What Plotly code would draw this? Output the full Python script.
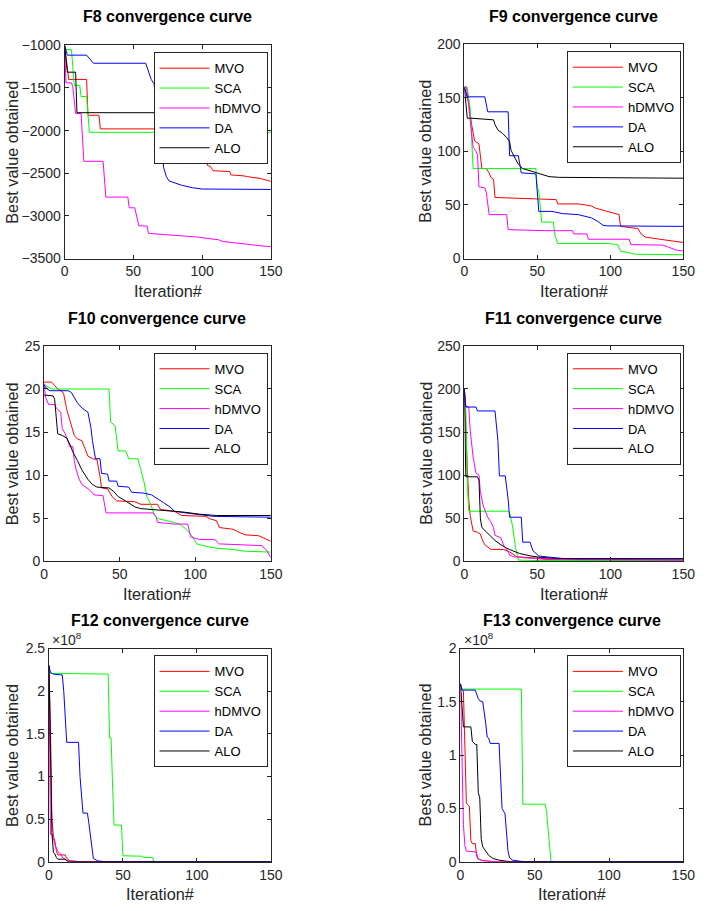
import plotly.graph_objects as go

ITER_TICKS = [0, 50, 100, 150]
SERIES = ["MVO", "SCA", "hDMVO", "DA", "ALO"]
COLORS = {"MVO": "#ff0000", "SCA": "#00ff00", "hDMVO": "#ff00ff", "DA": "#0000ff", "ALO": "#000000"}

# ---- F8 (iteration, best value) ----
F8_MVO = [(0,-1000),(2,-1300),(3,-1400),(16,-1400),(17,-1820),(25,-1820),(26,-1980),(79,-1980),(80,-2290),(103,-2300),(104,-2410),(106,-2420),(108,-2470),(120,-2480),(121,-2520),(130,-2530),(133,-2540),(142,-2560),(146,-2580),(150,-2595)]
F8_SCA = [(0,-1000),(1,-1050),(5,-1050),(7,-1470),(11,-1470),(12,-1600),(16,-1600),(18,-2020),(150,-2020)]
F8_hDMVO = [(0,-1000),(1,-1440),(5,-1440),(6,-1490),(8,-1800),(12,-1800),(14,-2360),(28,-2360),(30,-2780),(46,-2780),(47,-2905),(51,-2905),(54,-3115),(60,-3120),(61,-3205),(79,-3225),(98,-3250),(104,-3265),(112,-3280),(115,-3300),(125,-3320),(135,-3340),(145,-3355),(150,-3360)]
F8_DA = [(0,-1000),(2,-1115),(16,-1115),(21,-1210),(59,-1210),(63,-1400),(65,-1450),(67,-1650),(69,-1950),(71,-2200),(72,-2430),(74,-2540),(76,-2590),(80,-2610),(85,-2640),(93,-2670),(100,-2685),(150,-2690)]
F8_ALO = [(0,-1000),(2,-1315),(8,-1315),(9,-1790),(150,-1790)]
F8_YTICKS = [-3500, -3000, -2500, -2000, -1500, -1000]

# ---- F9 ----
F9_MVO = [(0,160),(1,155),(3,145),(5,125),(7,110),(10,107),(11,95),(12,84),(15,84),(17,80),(18,76),(20,74),(21,57),(42,56),(50,55),(63,55),(64,51),(78,51),(83,50),(87,49),(90,47),(96,45),(100,43),(106,41),(107,30),(116,29),(119,28),(121,23),(124,20),(134,18),(143,16),(150,15)]
F9_SCA = [(0,160),(2,160),(4,140),(6,84),(49,84),(50,66),(51,63),(53,34),(61,34),(62,22),(64,14),(99,14),(105,13),(107,7),(114,5),(117,4),(150,3.5)]
F9_hDMVO = [(0,160),(1,161),(2,155),(4,130),(6,104),(8,100),(9,97),(10,67),(14,66),(15,62),(17,41),(29,41),(30,27),(55,26),(74,26),(75,23),(84,23),(85,18),(113,18),(114,13),(136,12.5),(140,10.5),(145,8),(150,7)]
F9_DA = [(0,160),(2,151),(14,151),(16,137),(30,137),(31,96),(37,96),(39,80),(49,79),(51,44),(60,44),(67,42),(78,41),(87,38),(91,35),(95,31),(98,30.5),(150,30)]
F9_ALO = [(0,160),(2,131),(5,131),(20,129.5),(21,125),(23,120),(26,117),(29,113),(31,109),(32,101),(35,93),(37,88),(40,84),(45,82),(49,80.5),(54,78),(58,76.5),(65,75.8),(100,75.5),(150,75)]
F9_YTICKS = [0, 50, 100, 150, 200]

# ---- F10 ----
F10_MVO = [(0,20.8),(5,20.8),(6,20.6),(9,20.0),(12,19.7),(13,19.4),(15,17.6),(17,16.5),(19,15.2),(20,14.6),(22,14.2),(25,14.0),(27,13.1),(29,12.2),(32,11.9),(35,11.8),(37,9.8),(38,8.5),(42,8.4),(45,7.5),(48,7.0),(60,6.9),(64,6.6),(75,6.6),(77,6.0),(86,5.8),(91,5.3),(107,5.2),(110,4.9),(114,4.7),(116,3.9),(125,3.7),(129,3.35),(133,3.05),(142,2.95),(146,2.6),(150,2.3)]
F10_SCA = [(0,20.6),(2,20.3),(5,20.0),(43,20.0),(44,16.2),(47,15.7),(49,12.8),(54,12.8),(56,11.9),(62,11.9),(64,10.6),(66,9.3),(68,7.5),(71,6.4),(73,5.3),(75,4.95),(81,4.7),(90,4.3),(94,3.7),(98,2.9),(101,2.0),(105,1.8),(114,1.5),(125,1.35),(133,1.15),(150,1.05)]
F10_hDMVO = [(0,20.6),(1,19.0),(3,18.2),(7,18.2),(8,17.8),(11,17.3),(12,15.4),(14,14.8),(17,13.3),(19,13.3),(20,11.7),(21,10.8),(23,9.6),(25,8.9),(30,8.3),(33,7.7),(39,7.6),(41,5.6),(72,5.6),(74,5.2),(75,4.5),(84,4.4),(86,4.3),(95,4.3),(97,2.8),(103,2.5),(113,2.5),(116,2.0),(138,1.9),(144,1.8),(147,1.3),(150,0.4)]
F10_DA = [(0,20.5),(2,20.0),(4,19.8),(16,19.8),(18,19.6),(20,19.0),(22,18.4),(25,17.8),(29,17.3),(31,15.5),(32,14.0),(34,11.9),(37,11.9),(38,10.2),(42,10.1),(43,9.3),(48,9.3),(49,8.7),(56,8.6),(58,8.0),(66,7.9),(71,7.7),(75,7.2),(79,6.8),(84,6.2),(86,5.8),(94,5.6),(107,5.3),(112,5.2),(150,5.1)]
F10_ALO = [(0,19.3),(6,19.2),(7,18.8),(8,17.1),(9,14.8),(12,14.6),(15,14.3),(17,13.6),(19,12.7),(22,11.7),(25,10.6),(29,9.5),(32,8.9),(35,8.6),(43,8.5),(46,8.1),(49,7.5),(52,7.2),(56,6.7),(60,6.3),(64,6.1),(71,6.0),(82,5.9),(92,5.7),(103,5.45),(114,5.3),(150,5.3)]
F10_YTICKS = [0, 5, 10, 15, 20, 25]

# ---- F11 ----
F11_MVO = [(0,200),(1,148),(2,110),(3,72),(4,53),(6,35),(9,33.5),(11,31.5),(12,26),(14,19),(16,16.4),(18,13.7),(27,13.5),(31,10.7),(36,5),(45,3.8),(56,2.3),(67,1.5),(150,1.1)]
F11_SCA = [(0,200),(1,175),(2,90),(3,58),(30,58),(31,56),(33,41),(35,16),(37,1.2),(50,0.7),(150,0.5)]
F11_hDMVO = [(0,200),(1,180),(3,179),(4,152),(6,121),(8,102),(10,100),(11,80),(13,64),(16,51),(18,46),(20,39),(21,30),(25,27),(27,18),(29,14),(31,7),(34,5),(42,3.8),(56,1.9),(150,1.1)]
F11_DA = [(0,200),(1,179),(8,179),(9,174.5),(21,174.5),(23,140),(24,99),(28,99),(30,72),(31,51),(39,51),(40,22),(45,22),(47,12),(49,9),(51,6),(56,5),(67,3),(150,2.8)]
F11_ALO = [(0,200),(1,98),(9,98),(10,94),(11,49),(12,39),(15,34),(18,29),(21,24),(25,19),(29,15),(34,11.4),(38,8.8),(45,6.1),(51,4.6),(60,3.4),(78,2.7),(150,2.6)]
F11_YTICKS = [0, 50, 100, 150, 200, 250]

# ---- F12 (values in units of 1e8) ----
F12_MVO = [(0,2.3),(1,1.6),(2,0.5),(3,0.3),(4,0.24),(5,0.13),(6,0.08),(11,0.08),(12,0.04),(14,0.012),(20,0.002),(150,0.0)]
F12_SCA = [(0,2.21),(40,2.2),(41,1.45),(42,1.45),(43,0.9),(44,0.43),(49,0.43),(50,0.07),(63,0.065),(64,0.05),(70,0.05),(71,0.0),(150,0.0)]
F12_hDMVO = [(0,2.3),(1,0.32),(2,0.32),(3,0.28),(4,0.2),(5,0.15),(6,0.12),(7,0.1),(8,0.09),(9,0.05),(11,0.03),(13,0.01),(18,0.004),(27,0.0),(150,0.0)]
F12_DA = [(0,2.3),(1,2.22),(3,2.2),(9,2.19),(10,2.0),(12,1.4),(20,1.4),(21,1.0),(23,0.57),(26,0.57),(27,0.45),(28,0.3),(29,0.12),(30,0.04),(33,0.01),(38,0.0),(150,0.0)]
F12_ALO = [(0,2.3),(1,1.2),(2,0.34),(3,0.11),(4,0.09),(5,0.05),(6,0.03),(11,0.03),(12,0.01),(14,0.0),(150,0.0)]
F12_YTICKS = [0, 0.5, 1, 1.5, 2, 2.5]

# ---- F13 (values in units of 1e8) ----
F13_MVO = [(0,1.67),(1,1.62),(2,1.6),(3,1.1),(4,0.55),(6,0.52),(7,0.2),(8,0.17),(10,0.17),(11,0.05),(12,0.025),(15,0.01),(22,0.0),(150,0.0)]
F13_SCA = [(0,1.67),(1,1.62),(41,1.62),(42,0.54),(57,0.54),(58,0.47),(59,0.3),(60,0.1),(61,0.0),(150,0.0)]
F13_hDMVO = [(0,1.67),(1,1.0),(2,0.35),(3,0.15),(4,0.1),(10,0.092),(11,0.07),(12,0.025),(15,0.01),(22,0.003),(26,0.0),(150,0.0)]
F13_DA = [(0,1.67),(1,1.61),(10,1.61),(11,1.56),(12,1.53),(13,1.51),(15,1.5),(17,1.3),(18,1.17),(19,1.16),(20,1.11),(26,1.11),(27,0.8),(28,0.5),(30,0.45),(31,0.22),(32,0.1),(33,0.04),(35,0.015),(40,0.005),(44,0.0),(150,0.0)]
F13_ALO = [(0,1.67),(1,1.5),(2,1.265),(7,1.265),(8,1.13),(10,1.1),(11,1.1),(12,0.65),(13,0.6),(14,0.21),(15,0.14),(17,0.1),(19,0.06),(22,0.03),(26,0.015),(31,0.005),(35,0.0),(150,0.0)]
F13_YTICKS = [0, 0.5, 1, 1.5, 2]

W, H = 708, 911
FONT = "Liberation Sans, Arial, Helvetica, sans-serif"
AX = "#262626"

# panel layout (pixels): axes box, legend top-left, title y, exponent label position
PANELS = [
    dict(name="F8", data=[F8_MVO, F8_SCA, F8_hDMVO, F8_DA, F8_ALO], yt=F8_YTICKS, yr=[-3500, -1000],
         l=62, r=273, t=38, b=255, lgx=153, lgy=45, ylab_x=8, ty=9, exp=None),
    dict(name="F9", data=[F9_MVO, F9_SCA, F9_hDMVO, F9_DA, F9_ALO], yt=F9_YTICKS, yr=[0, 200],
         l=471, r=695, t=37, b=255, lgx=576, lgy=44, ylab_x=431, ty=9, exp=None),
    dict(name="F10", data=[F10_MVO, F10_SCA, F10_hDMVO, F10_DA, F10_ALO], yt=F10_YTICKS, yr=[0, 25],
         l=41, r=273, t=344, b=563, lgx=153, lgy=351, ylab_x=8, ty=316, exp=None),
    dict(name="F11", data=[F11_MVO, F11_SCA, F11_hDMVO, F11_DA, F11_ALO], yt=F11_YTICKS, yr=[0, 250],
         l=471, r=695, t=344, b=563, lgx=576, lgy=351, ylab_x=431, ty=316, exp=None),
    dict(name="F12", data=[F12_MVO, F12_SCA, F12_hDMVO, F12_DA, F12_ALO], yt=F12_YTICKS, yr=[0, 2.5],
         l=46, r=273, t=652, b=869, lgx=153, lgy=659, ylab_x=8, ty=623, exp=(47, 642)),
    dict(name="F13", data=[F13_MVO, F13_SCA, F13_hDMVO, F13_DA, F13_ALO], yt=F13_YTICKS, yr=[0, 2],
         l=467, r=695, t=652, b=869, lgx=576, lgy=659, ylab_x=431, ty=623, exp=(469, 642)),
]

def fx(p):
    return p / W

def fy(p):
    return 1 - p / H

fig = go.Figure()
annotations = []
layout = {}

for i, P in enumerate(PANELS):
    k = "" if i == 0 else str(i + 1)
    lg = "legend" + k
    for sname, pts in zip(SERIES, P["data"]):
        xs = [p[0] for p in pts]
        ys = [p[1] for p in pts]
        fig.add_trace(go.Scatter(x=xs, y=ys, mode="lines", name=sname,
                                 line=dict(color=COLORS[sname], width=1),
                                 xaxis="x" + k, yaxis="y" + k, legend=lg))
    axcommon = dict(showline=True, linecolor=AX, linewidth=1, mirror="ticks", ticks="inside",
                    ticklen=4, tickcolor=AX, tickwidth=1, showgrid=False, zeroline=False,
                    tickfont=dict(family=FONT, size=14, color=AX), fixedrange=True)
    layout["xaxis" + k] = dict(axcommon, domain=[fx(P["l"]), fx(P["r"])], range=[0, 150],
                               tickvals=ITER_TICKS, anchor="y" + k)
    layout["yaxis" + k] = dict(axcommon, domain=[fy(P["b"]), fy(P["t"])], range=P["yr"],
                               tickvals=P["yt"], anchor="x" + k)
    layout[lg] = dict(x=fx(P["lgx"]), y=fy(P["lgy"]), xanchor="left", yanchor="top",
                      bgcolor="white", bordercolor=AX, borderwidth=1,
                      font=dict(family=FONT, size=13, color="#000000"),
                      itemwidth=50, tracegroupgap=0)
    cx = (P["l"] + P["r"]) / 2
    annotations.append(dict(text="<b>%s convergence curve</b>" % P["name"], x=fx(cx), y=fy(P["ty"]),
                            xref="paper", yref="paper", xanchor="center", yanchor="middle",
                            showarrow=False, font=dict(family=FONT, size=16, color="#000000")))
    annotations.append(dict(text="Best value obtained", x=fx(P["ylab_x"]), y=fy((P["t"] + P["b"]) / 2),
                            xref="paper", yref="paper", xanchor="center", yanchor="middle", textangle=-90,
                            showarrow=False, font=dict(family=FONT, size=16.3, color=AX)))
    annotations.append(dict(text="Iteration#", x=fx(cx), y=fy(P["b"] + 33),
                            xref="paper", yref="paper", xanchor="center", yanchor="middle",
                            showarrow=False, font=dict(family=FONT, size=16.3, color=AX)))
    if P["exp"]:
        annotations.append(dict(text="\u00d710<sup>8</sup>", x=fx(P["exp"][0]), y=fy(P["exp"][1]),
                                xref="paper", yref="paper", xanchor="left", yanchor="middle",
                                showarrow=False, font=dict(family=FONT, size=14, color=AX)))

fig.update_layout(width=W, height=H, autosize=False, margin=dict(l=0, r=0, t=0, b=0),
                  plot_bgcolor="white", paper_bgcolor="white", annotations=annotations,
                  **layout)

fig.write_html("out.html", config={"displayModeBar": False, "responsive": False},
               post_script="document.body.style.margin='0';document.body.style.padding='0';")
